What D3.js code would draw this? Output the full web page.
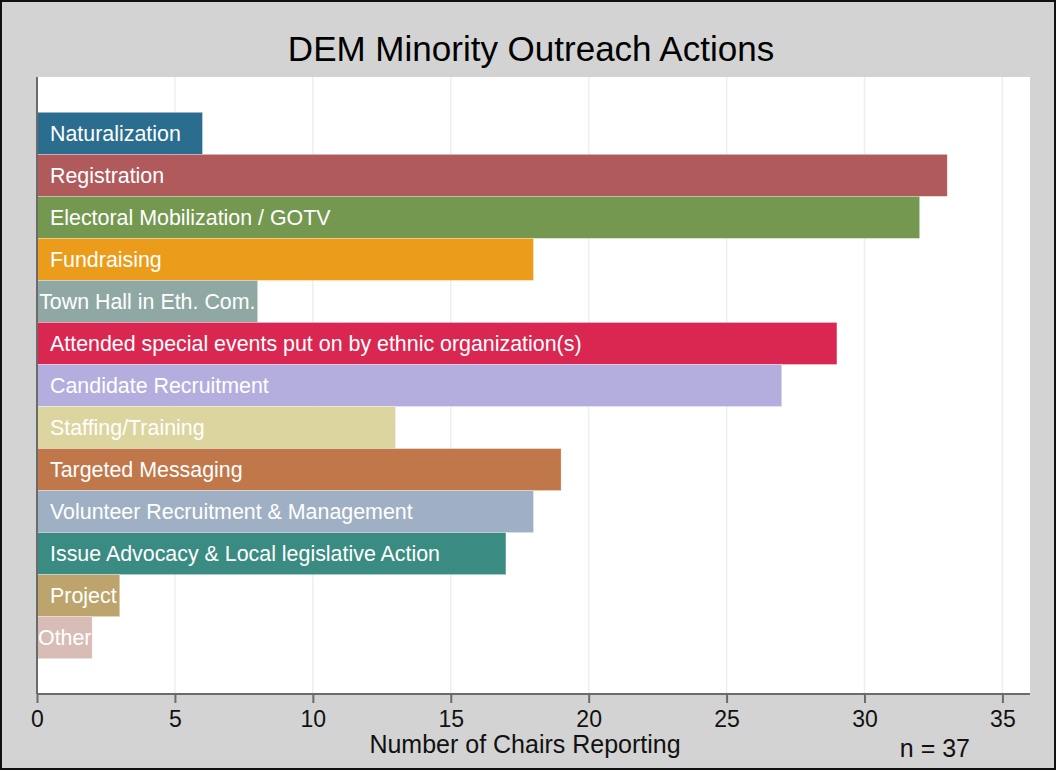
<!DOCTYPE html>
<html lang="en">
<head>
  <meta charset="UTF-8">
  <title>DEM Minority Outreach Actions</title>
  <script src="https://d3js.org/d3.v7.min.js"></script>
  <style>
    body { margin: 0; background: #fff; }
    svg { display: block; font-family: "Liberation Sans", Arial, Helvetica, sans-serif; }
    .barlabel { fill: #fff; font-size: 21.4px; }
    .tick-label { font-size: 23px; fill: #111; }
  </style>
</head>
<body>
  <svg id="chart"></svg>

  <script>
    const width = 1057;
    const height = 771;

    // data
    const categories = [
      "Naturalization",
      "Registration",
      "Electoral Mobilization / GOTV",
      "Fundraising",
      "Town Hall in Eth. Com.",
      "Attended special events put on by ethnic organization(s)",
      "Candidate Recruitment",
      "Staffing/Training",
      "Targeted Messaging",
      "Volunteer Recruitment & Management",
      "Issue Advocacy & Local legislative Action",
      "Project",
      "Other"
    ];
    const counts = [6, 33, 32, 18, 8, 29, 27, 13, 19, 18, 17, 3, 2];
    const barColors = [
      "#2a6d8f", "#b05a5c", "#74984f", "#eb9c1a", "#8fa8a3", "#da2751",
      "#b3aede", "#dcd59f", "#c0774a", "#9fb0c4", "#3a8c82", "#bda46d", "#d8bdb7"
    ];
    const xTicks = [0, 5, 10, 15, 20, 25, 30, 35];

    const margin = { top: 77, right: 27, bottom: 77, left: 37 };
    const plotW = width - margin.left - margin.right;
    const plotH = height - margin.top - margin.bottom;

    const svg = d3.select("#chart").attr("width", width).attr("height", height);

    // grey page with a dark frame
    svg.append("rect")
      .attr("x", 1).attr("y", 1)
      .attr("width", width - 3).attr("height", height - 3)
      .attr("fill", "#d3d3d3")
      .attr("stroke", "#111")
      .attr("stroke-width", 2);

    const g = svg.append("g").attr("transform", `translate(${margin.left},${margin.top})`);

    g.append("rect")
      .attr("width", plotW).attr("height", plotH)
      .attr("fill", "#fff");

    const x = d3.scaleLinear().domain([0, 36]).range([0, plotW]);
    const y = d3.scaleBand().domain(categories).range([0, plotH]).paddingInner(0).paddingOuter(0.84);

    // vertical gridlines
    g.selectAll(".grid")
      .data(xTicks.slice(1))
      .enter().append("line")
      .attr("class", "grid")
      .attr("x1", d => x(d)).attr("x2", d => x(d))
      .attr("y1", 0).attr("y2", plotH)
      .attr("stroke", "#eaf0f0")
      .attr("stroke-width", 1.5);

    // bars
    g.selectAll(".bar")
      .data(categories)
      .enter().append("rect")
      .attr("class", "bar")
      .attr("x", 0)
      .attr("y", d => y(d))
      .attr("width", (d, i) => x(counts[i]))
      .attr("height", y.bandwidth())
      .attr("fill", (d, i) => barColors[i])
      .attr("stroke", "#fff")
      .attr("stroke-width", 0.6)
      .attr("stroke-opacity", 0.5);

    // labels inside the bars
    const labels = g.selectAll(".barlabel")
      .data(categories)
      .enter().append("text")
      .attr("class", "barlabel")
      .attr("y", d => y(d) + y.bandwidth() / 2)
      .attr("dy", "0.36em")
      .text(d => d);

    labels.attr("x", function(d, i) {
      const tw = this.getComputedTextLength();
      const bw = x(counts[i]);
      if (tw + 13 <= bw) return 13;
      return Math.max(1, (bw - tw) / 2);
    });

    // axes
    const xAxis = d3.axisBottom(x).tickValues(xTicks).tickSize(9).tickPadding(8);
    const ax = g.append("g")
      .attr("transform", `translate(0,${plotH})`)
      .call(xAxis);
    ax.select(".domain").remove();
    ax.selectAll(".tick line").attr("stroke", "#6b6b6b").attr("stroke-width", 2);
    ax.selectAll(".tick text")
      .attr("class", "tick-label")
      .attr("font-family", null)
      .attr("font-size", null);

    g.append("line")
      .attr("x1", 0).attr("x2", plotW)
      .attr("y1", plotH).attr("y2", plotH)
      .attr("stroke", "#6b6b6b").attr("stroke-width", 2);
    g.append("line")
      .attr("x1", 0).attr("x2", 0)
      .attr("y1", 0).attr("y2", plotH)
      .attr("stroke", "#6b6b6b").attr("stroke-width", 2);

    // titles
    svg.append("text")
      .attr("x", 531).attr("y", 61)
      .attr("text-anchor", "middle")
      .attr("font-size", 35)
      .attr("fill", "#000")
      .text("DEM Minority Outreach Actions");

    svg.append("text")
      .attr("x", 525).attr("y", 753)
      .attr("text-anchor", "middle")
      .attr("font-size", 25)
      .attr("fill", "#111")
      .text("Number of Chairs Reporting");

    svg.append("text")
      .attr("x", 970).attr("y", 757)
      .attr("text-anchor", "end")
      .attr("font-size", 25)
      .attr("fill", "#111")
      .text("n = 37");
  </script>
</body>
</html>
